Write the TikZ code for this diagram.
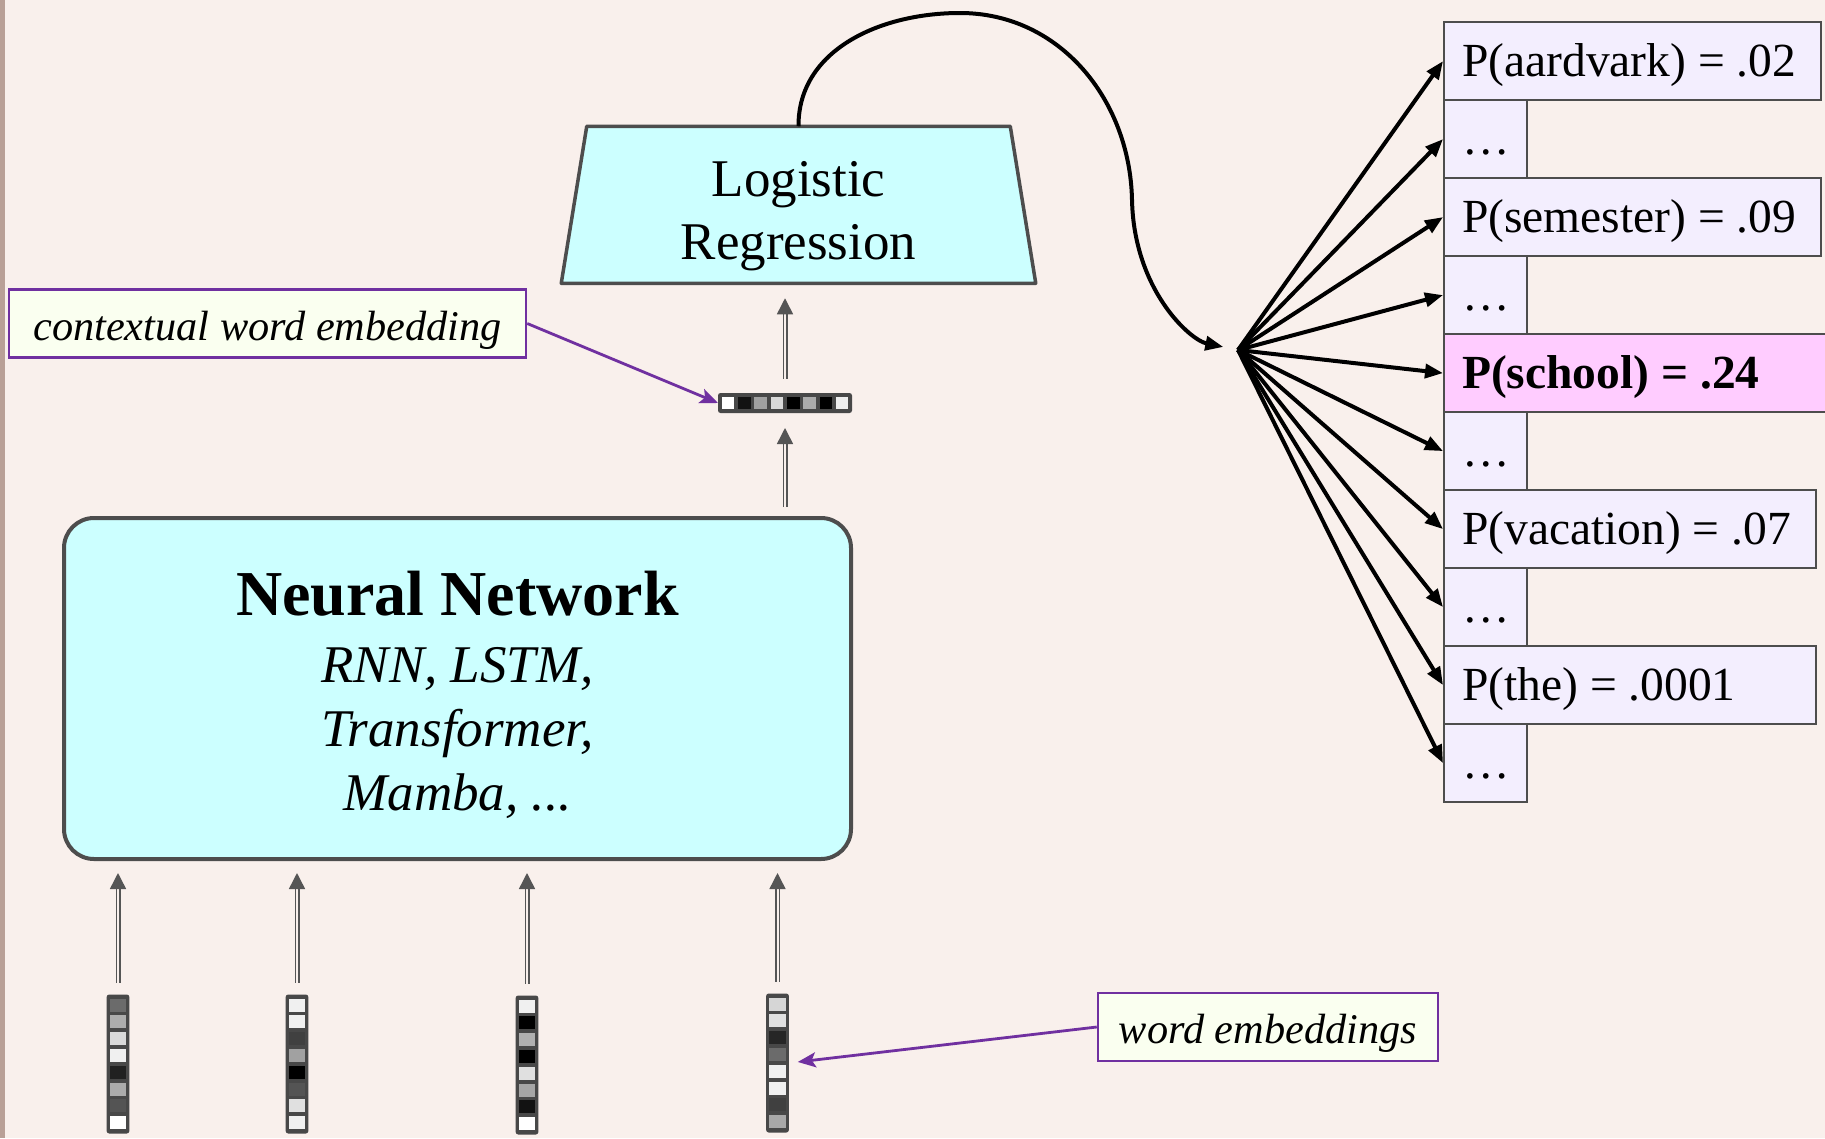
\documentclass[tikz,border=0pt]{standalone}
\usepackage{fontspec}
\setmainfont{Liberation Serif}
\usetikzlibrary{arrows.meta,calc}

\definecolor{paper}{HTML}{F9F0EC}
\definecolor{edgestrip}{HTML}{B9A097}
\definecolor{frame}{HTML}{4D4D4D}
\definecolor{aqua}{HTML}{CCFFFF}
\definecolor{lav}{HTML}{F3EEFE}
\definecolor{pinkbox}{HTML}{FFCCFF}
\definecolor{notefill}{HTML}{FAFFF0}
\definecolor{notecol}{HTML}{7030A0}
\definecolor{shaftcol}{HTML}{555555}
\definecolor{cellbg}{HTML}{484848}

% cells of a vertical embedding vector
\newcommand\vcells[2]{%
  \foreach \shade [count=\k from 0] in {#2}
    \fill[black!\shade] ($(#1.north west)+(3.2,4+\k*16.8)$) rectangle +(16.3,13);}
% cells of a horizontal embedding vector
\newcommand\hcells[2]{%
  \foreach \shade [count=\k from 0] in {#2}
    \fill[black!\shade] ($(#1.north west)+(3.7+\k*16.3,3.7)$) rectangle +(12.6,12.6);}

\begin{document}
\begin{tikzpicture}[x=1pt,y=-1pt,
  probbox/.style={draw=frame, line width=2.2pt, fill=lav, anchor=north west,
    minimum height=78pt, inner xsep=18pt, inner ysep=0pt,
    text height=42pt, text depth=11pt,
    font=\fontsize{47.5}{57}\selectfont},
  nnbox/.style={draw=frame, line width=4pt, fill=aqua, rounded corners=30pt,
    inner sep=0pt},
  lrframe/.style={draw=frame, line width=3.5pt, fill=aqua, line join=round},
  note/.style={draw=notecol, line width=2.5pt, fill=notefill, inner sep=0pt,
    text height=42pt, text depth=9pt,
    font=\itshape\fontsize{42.3}{50}\selectfont},
  vecbar/.style={fill=cellbg, rounded corners=2.5pt, inner sep=0pt, outer sep=0pt},
  uparrow/.style={draw=shaftcol, line width=1.5pt, double=paper, double distance=2pt,
    -{Triangle[length=16pt,width=16pt]}},
  fanarrow/.style={draw=black, line width=4pt, -{Triangle[length=18pt,width=14pt]}},
  noteline/.style={draw=notecol, line width=2.8pt,
    -{Stealth[length=18pt,width=15pt,inset=4pt]}}
]
\useasboundingbox (0,0) rectangle (1825,1138);
\fill[paper] (0,0) rectangle (1825,1138);
\fill[edgestrip] (0,0) rectangle (4.5,1138);

% network and classifier
\node[nnbox, minimum width=787pt, minimum height=341pt] (nn) at (457.5,688.5) {};
\node[align=center, font=\itshape\fontsize{53}{64}\selectfont] (nnlabel)
  at ($(nn.center)+(0,6)$)
  {{\upshape\bfseries\fontsize{64}{64}\selectfont Neural Network}\\[3pt]
   RNN, LSTM,\\ Transformer,\\ Mamba, ...};

\node[minimum width=474.5pt, minimum height=157pt, inner sep=0pt, outer sep=0pt]
  (lr) at (798.5,204.75) {};
\draw[lrframe] ($(lr.north west)+(25.5,0)$) -- ($(lr.north east)+(-25.5,0)$)
  -- (lr.south east) -- (lr.south west) -- cycle;
\node[align=center, font=\fontsize{53}{63}\selectfont] (lrlabel)
  at ($(lr.center)+(0,11)$) {Logistic\\Regression};

% contextual embedding
\node[vecbar, minimum width=134pt, minimum height=20pt] (ctx) at (785,403) {};
\hcells{ctx}{0,93,37,15,100,33,100,7}

% input word embeddings
\node[vecbar, minimum width=22.7pt, minimum height=139pt] (vec1) at (118,1064) {};
\node[vecbar, minimum width=22.7pt, minimum height=139pt] (vec2) at (297,1064) {};
\node[vecbar, minimum width=22.7pt, minimum height=139pt] (vec3) at (527,1065) {};
\node[vecbar, minimum width=22.7pt, minimum height=139pt] (vec4) at (777.5,1063) {};
\vcells{vec1}{58,32,15,6,87,33,67,0}
\vcells{vec2}{6,6,75,37,100,67,12,6}
\vcells{vec3}{6,100,31,100,12,35,93,0}
\vcells{vec4}{16,12,85,58,6,6,75,34}

\foreach \v in {vec1,vec2,vec3,vec4}
  \draw[uparrow, shorten <=12pt, shorten >=12pt] (\v.north) -- (\v.north |- nn.south);
\draw[uparrow, shorten <=9pt, shorten >=15pt] (ctx.south |- nn.north) -- (ctx.south);
\draw[uparrow, shorten <=14pt, shorten >=15pt] (ctx.north) -- (ctx.north |- lr.south);

% output distribution
\node[probbox, minimum width=376.8pt] (p1) at (1443,21) {\makebox[340.8pt][l]{P(aardvark) = .02}};
\node[probbox, minimum width=82.8pt] (p2) at (1443,99) {\makebox[46.8pt][l]{…}};
\node[probbox, minimum width=376.8pt] (p3) at (1443,177) {\makebox[340.8pt][l]{P(semester) = .09}};
\node[probbox, minimum width=82.8pt] (p4) at (1443,255) {\makebox[46.8pt][l]{…}};
\node[probbox, fill=pinkbox, minimum width=386pt] (p5) at (1443,333) {\makebox[350pt][l]{\bfseries P(school) = .24}};
\node[probbox, minimum width=82.8pt] (p6) at (1443,411) {\makebox[46.8pt][l]{…}};
\node[probbox, minimum width=371.8pt] (p7) at (1443,489) {\makebox[335.8pt][l]{P(vacation) = .07}};
\node[probbox, minimum width=82.8pt] (p8) at (1443,567) {\makebox[46.8pt][l]{…}};
\node[probbox, minimum width=371.8pt] (p9) at (1443,645) {\makebox[335.8pt][l]{P(the) = .0001}};
\node[probbox, minimum width=82.8pt] (p10) at (1443,723) {\makebox[46.8pt][l]{…}};

\coordinate (fan) at (1238,350);
\draw[fanarrow, shorten >=15pt] (lr.north) .. controls (798,50) and (880,13) .. (960,13)
  .. controls (1060,13) and (1130,100) .. (1132,200)
  .. controls (1134,290) and (1190,340) .. (fan);
\foreach \i in {1,...,10}
  \draw[fanarrow] (fan) -- (p\i.west);

% callouts
\node[note, minimum width=517pt, minimum height=68pt] (ctxnote) at (267.5,323.5) {contextual word embedding};
\node[note, minimum width=340pt, minimum height=68pt] (wenote) at (1268,1027) {word embeddings};
\draw[noteline] (ctxnote.east) -- (ctx.west);
\draw[noteline, shorten >=9pt] (wenote.west) -- (vec4.east);
\end{tikzpicture}
\end{document}
